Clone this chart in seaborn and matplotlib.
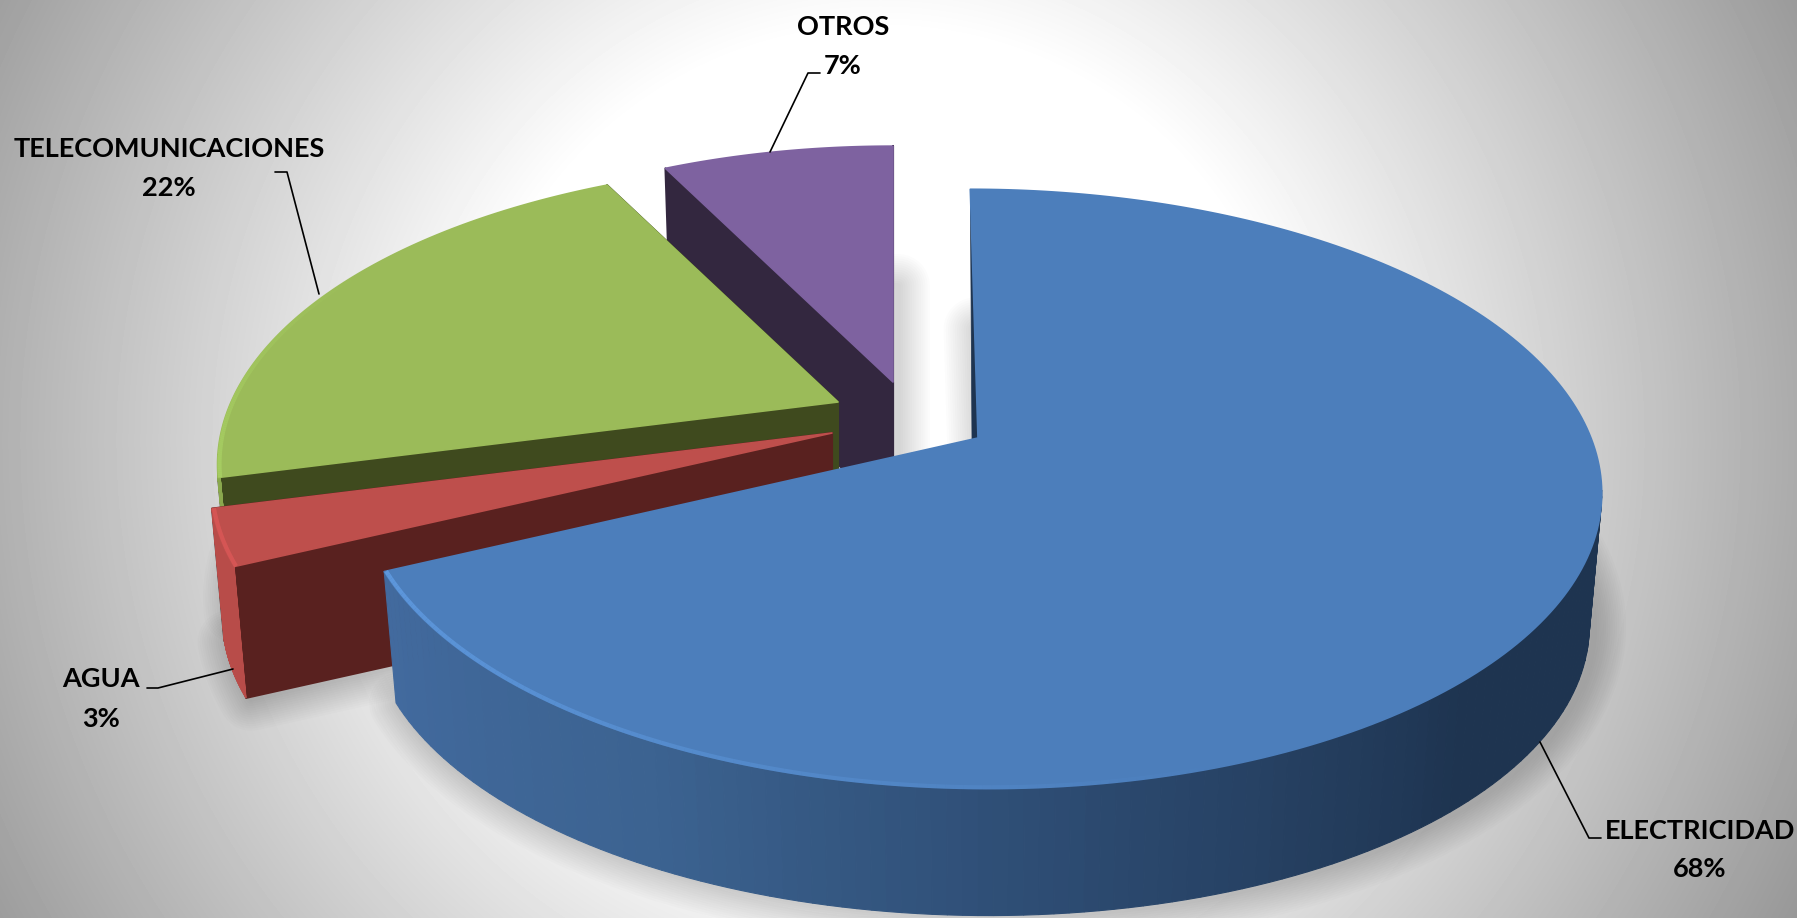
import numpy as np
import matplotlib
matplotlib.use("Agg")
import matplotlib.pyplot as plt
from matplotlib.collections import LineCollection
from matplotlib.colors import to_rgb
import seaborn as sns

# ---- data
categories = ["ELECTRICIDAD", "AGUA", "TELECOMUNICACIONES", "OTROS"]
values = [68.0, 3.0, 21.55, 7.45]

# ---- style / layout
top_colors = ["#4c7ebb", "#be4f4c", "#9bbb59", "#7e62a0"]
side_colors = ["#1e3450", "#59211f", "#3f4a1e", "#33273f"]
outer_colors = ["#426a9e", "#b84c49", "#8aa84e", "#6c5488"]
glow_colors = ["#5f9ae0", "#e25a5a", "#abd566", "#7e62a0"]
apex_x = [978, 832, 838, 893]
apex_y = [438, 433, 402, 382]
radial = [1.0, 1.0, 0.99, 0.94]
shear = [-9.0, 0.0, 0.0, 0.0]
persp = [0.17, 0.17, 0.21, 0.17]
W, H = 1797, 918
A, B = 613.0, 291.0
DEPTH, BOTTOM_SCALE = 134.0, 0.98

sns.set_theme(style="white")
plt.rcParams["font.family"] = ["Lato", "DejaVu Sans"]

fig = plt.figure(figsize=(W / 100, H / 100), dpi=100)
ax = fig.add_axes([0, 0, 1, 1])
ax.set_xlim(0, W)
ax.set_ylim(H, 0)
ax.axis("off")

# background radial gradient
yy, xx = np.mgrid[0:H, 0:W]
dist = np.hypot(xx - 880, yy - 440)
grey = np.clip(255 - np.clip(dist - 410, 0, None) * 0.166, 0, 255) / 255
ax.imshow(grey, cmap="gray", vmin=0, vmax=1, extent=(0, W, H, 0), aspect="auto", zorder=0)
ax.set_xlim(0, W)
ax.set_ylim(H, 0)


def project(theta_deg, i, bottom=False, r=1.0):
    t = np.radians(theta_deg)
    u, v = r * radial[i] * np.cos(t), r * radial[i] * np.sin(t)
    w = 1 + persp[i] * v
    s = BOTTOM_SCALE if bottom else 1.0
    x = apex_x[i] + s * (A * u + shear[i] * v) / w
    y = apex_y[i] - s * B * v / w + (DEPTH if bottom else 0)
    return x, y


shares = np.array(values) / np.sum(values)
ends = 90 - 360 * np.cumsum(shares)
starts = np.r_[90, ends[:-1]]

# soft shadows below the pieces
for i in range(4):
    th = np.linspace(starts[i], ends[i], 160)
    bx, by = project(th, i, bottom=True)
    px = np.r_[apex_x[i], bx]
    py = np.r_[apex_y[i] + DEPTH, by]
    for lw in np.linspace(46, 4, 14):
        ax.fill(px + 5, py + 1, facecolor="none", edgecolor=(0, 0, 0, 0.011),
                lw=lw, joinstyle="round", zorder=1)

# pieces drawn back to front
for z, i in enumerate([3, 2, 1, 0]):
    zb = 2 + z * 3
    th = np.linspace(starts[i], ends[i], 240)
    # radial wall at the start of the slice
    tx, ty = project(starts[i], i)
    if i == 0:
        # only a thin sliver of this wall shows beside the top face
        ax.fill([apex_x[i], tx, apex_x[i] - 6], [apex_y[i], ty, apex_y[i] + 2],
                color=side_colors[i], lw=0.5, zorder=zb)
    else:
        bx, by = project(starts[i], i, bottom=True)
        ax.fill([apex_x[i], tx, bx, apex_x[i]],
                [apex_y[i], ty, by, apex_y[i] + DEPTH],
                color=side_colors[i], lw=1.5, joinstyle="round", zorder=zb)
        # radial wall at the end, behind the top face
        tx, ty = project(ends[i], i)
        bx, by = project(ends[i], i, bottom=True)
        ax.fill([apex_x[i], tx, bx, apex_x[i]],
                [apex_y[i], ty, by, apex_y[i] + DEPTH],
                color=side_colors[i], lw=1.5, joinstyle="round", zorder=zb)
    # outer curved wall (only the part that faces the viewer)
    lo, hi = max(min(starts[i], ends[i]), -170), min(max(starts[i], ends[i]), -10)
    if i == 1:
        lo, hi = ends[i], starts[i]
    if hi > lo:
        wall_th = np.linspace(lo, hi, 121)
        if i == 0:
            pal = sns.blend_palette([outer_colors[0], "#3c6391", "#2c4a70", side_colors[0], side_colors[0]], 120)
        else:
            pal = [to_rgb(outer_colors[i])] * 120
        for k in range(120):
            seg = wall_th[k:k + 2]
            x1, y1 = project(seg, i)
            x2, y2 = project(seg[::-1], i, bottom=True)
            ax.fill(np.r_[x1, x2], np.r_[y1, y2], color=pal[k], lw=0.8, zorder=zb + 1)
    # top face
    ax_x, ax_y = project(th, i)
    ax.fill(np.r_[apex_x[i], ax_x], np.r_[apex_y[i], ax_y], color=top_colors[i],
            lw=1.2, joinstyle="round", zorder=zb + 2)
    # bevel highlight, hugging the rim of the top face
    span = None
    if i == 0:
        span = (ends[0], ends[0] + 85)
    elif i == 1:
        span = (ends[1], starts[1])
    elif i == 2:
        span = (starts[2] - 45, starts[2])
    if span:
        gt = np.linspace(span[0], span[1], 120)
        pts = np.column_stack(project(gt, i, r=0.997))
        segs = np.stack([pts[:-1], pts[1:]], axis=1)
        fade = np.linspace(0.9, 0.0, len(segs)) if i == 0 else (
            np.linspace(0.0, 0.7, len(segs)) if i == 2 else np.full(len(segs), 0.85))
        rgba = [(*to_rgb(glow_colors[i]), a) for a in fade]
        ax.add_collection(LineCollection(segs, colors=rgba, linewidths=3.0, zorder=zb + 2))

# labels and leader lines
pct = [f"{round(v)}%" for v in values]
label_pos = {0: (1700, 831, 869), 1: (101, 679, 719), 2: (169, 149, 188), 3: (843, 27, 66)}
leaders = {
    0: [(1540, 742), (1589, 838), (1601, 838)],
    1: [(233, 669), (158, 688), (147, 688)],
    2: [(319, 294), (287, 172), (275, 172)],
    3: [(770, 152), (808, 73), (820, 73)],
}
for i, name in enumerate(categories):
    x, y1, y2 = label_pos[i]
    ax.text(x, y1, name, ha="center", va="center", fontsize=19.5, fontweight="bold",
            color="black", zorder=30)
    ax.text(x, y2, pct[i], ha="center", va="center", fontsize=19.5, fontweight="bold",
            color="black", zorder=30)
    lx, ly = zip(*leaders[i])
    ax.plot(lx, ly, color="black", lw=1.2, zorder=29)

fig.savefig("out.png", dpi=100)
